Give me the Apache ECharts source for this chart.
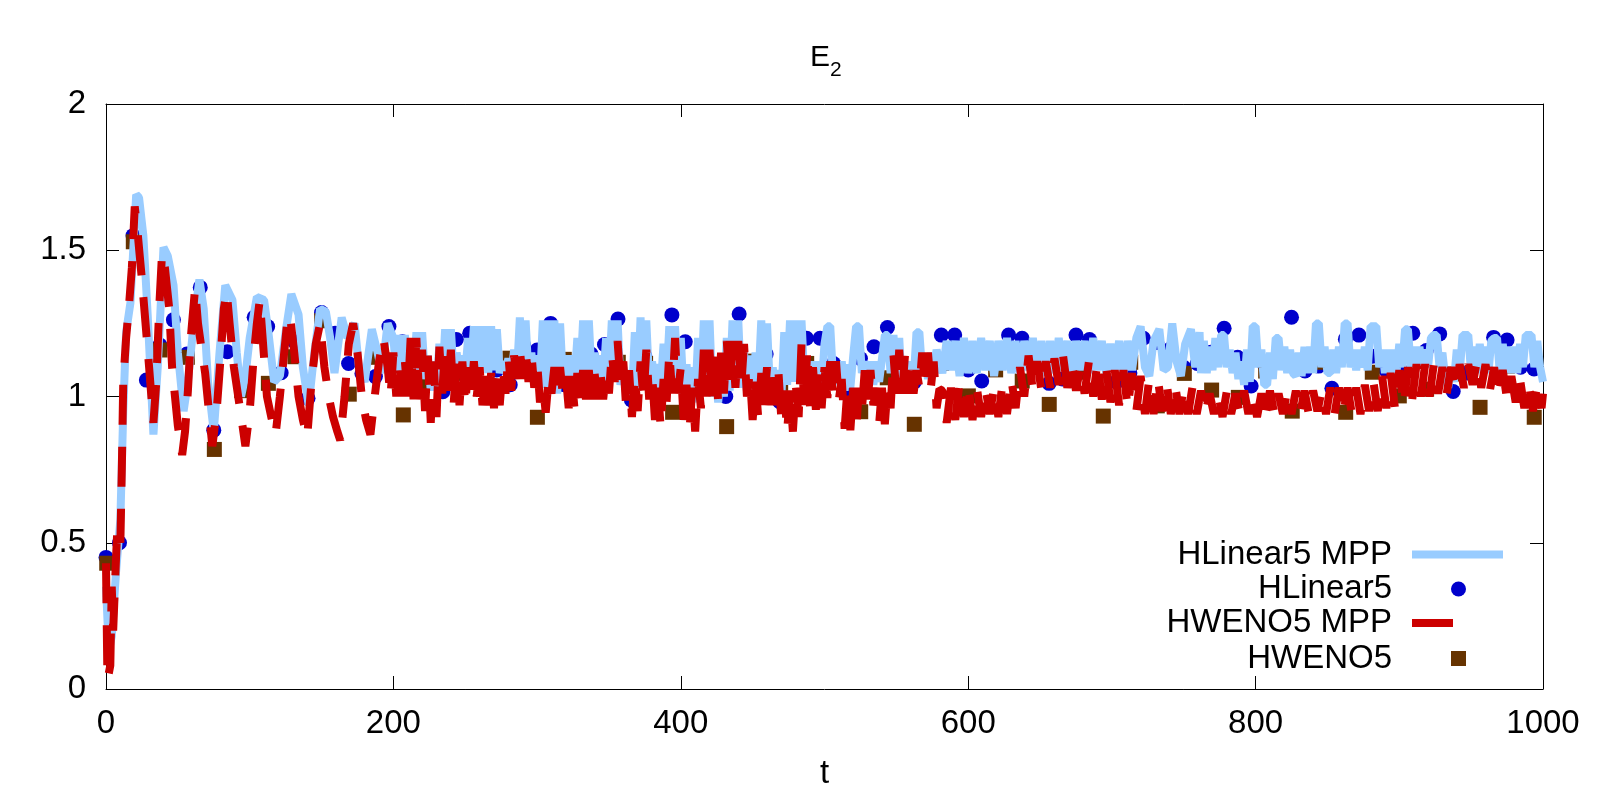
<!DOCTYPE html>
<html>
<head>
<meta charset="utf-8">
<title>E2</title>
<script src="https://cdn.jsdelivr.net/npm/echarts@6/dist/echarts.min.js"></script>
<style>
  html, body { margin: 0; padding: 0; background: #fff; }
  #chart { width: 1600px; height: 800px; }
</style>
</head>
<body>
<div id="chart"></div>
<script>
// axis ticks
const xTicks = [0, 200, 400, 600, 800, 1000];
const yTicks = [0, 0.5, 1, 1.5, 2];

// HLinear5 MPP (light blue line), [t, E2]
const hlinear5Mpp = [
  [0,0.35],[2,0.13],[4,0.18],[7,0.40],[10,0.58],[12,0.95],[14,1.22],[17,1.32],[21,1.69],[23,1.68],
  [26,1.55],[29,1.28],[33,0.87],[36,1.10],[40,1.51],[43,1.48],[47,1.38],[50,1.15],[54,0.95],[57,1.05],
  [61,1.25],[65,1.40],[68,1.30],[71,1.05],[75,0.88],[79,1.15],[83,1.38],[88,1.33],[91,1.15],[94,1.00],
  [97,1.07],[100,1.20],[105,1.34],[110,1.33],[113,1.22],[117,1.05],[121,1.07],[125,1.22],[129,1.35],[134,1.28],
  [137,1.10],[141,0.97],[145,1.15],[149,1.30],[153,1.29],[156,1.20],[159,1.08],[164,1.27],[168,1.20],[173,1.25],
  [176,1.10],[180,1.05],[185,1.23],[189,1.15],[192,1.08],[196,1.25],[200,1.20],[202,1.08],[204,1.21],[206,1.08],
  [208,1.21],[210,1.08],[212,1.16],[214,1.06],[216,1.22],[218,1.07],[220,1.22],[222,1.06],[224,1.14],[226,1.02],
  [228,1.12],[230,1.02],[232,1.18],[234,1.05],[236,1.23],[238,1.06],[240,1.23],[242,1.07],[244,1.15],[246,1.08],
  [248,1.14],[250,1.08],[252,1.20],[254,1.09],[256,1.24],[258,1.08],[260,1.24],[262,1.09],[264,1.24],[266,1.08],
  [268,1.24],[270,1.09],[272,1.23],[274,1.08],[276,1.12],[278,1.08],[280,1.13],[282,1.07],[284,1.16],[286,1.08],
  [288,1.27],[290,1.10],[292,1.26],[294,1.07],[296,1.15],[298,1.05],[300,1.14],[302,1.05],[304,1.26],[306,1.03],
  [308,1.26],[310,1.02],[312,1.26],[314,1.01],[316,1.25],[318,1.05],[320,1.14],[322,1.06],[324,1.14],[326,1.05],
  [328,1.20],[330,1.06],[332,1.26],[334,1.08],[336,1.26],[338,1.06],[340,1.15],[342,1.06],[344,1.14],[346,1.05],
  [348,1.20],[350,1.06],[352,1.26],[354,1.05],[356,1.26],[358,1.04],[360,1.10],[362,1.01],[364,1.09],[366,1.00],
  [368,1.22],[370,1.02],[372,1.27],[374,1.03],[376,1.26],[378,1.04],[380,1.12],[382,1.04],[384,1.11],[386,1.03],
  [388,1.18],[390,1.05],[392,1.24],[394,1.05],[396,1.24],[398,1.06],[400,1.20],[402,1.00],[404,1.11],[406,0.96],
  [408,1.10],[410,0.98],[412,1.20],[414,1.02],[416,1.26],[418,1.03],[420,1.26],[422,1.00],[424,1.10],[426,0.98],
  [428,1.09],[430,1.00],[432,1.20],[434,1.02],[436,1.26],[438,1.04],[440,1.26],[442,1.03],[444,1.15],[446,1.02],
  [448,1.14],[450,1.01],[452,1.15],[454,1.05],[456,1.26],[458,1.06],[460,1.25],[462,1.03],[464,1.10],[466,0.99],
  [468,1.09],[470,1.00],[472,1.22],[474,1.04],[476,1.26],[478,1.05],[480,1.26],[482,1.06],[484,1.26],[486,1.05],
  [488,1.12],[490,1.01],[492,1.12],[494,1.02],[496,1.12],[498,1.03],[500,1.18],[502,1.24],[504,1.24],[506,1.06],
  [508,1.12],[510,1.04],[512,1.12],[514,1.02],[516,1.11],[518,1.03],[520,1.14],[522,1.24],[524,1.24],[526,1.08],
  [528,1.12],[530,1.05],[532,1.12],[534,1.04],[536,1.12],[538,1.05],[540,1.13],[542,1.21],[544,1.21],[546,1.08],
  [548,1.21],[550,1.06],[552,1.20],[554,1.02],[556,1.11],[558,1.03],[560,1.12],[562,1.05],[564,1.22],[566,1.22],
  [568,1.08],[570,1.14],[572,1.06],[574,1.15],[576,1.07],[578,1.16],[582,1.08],[585,1.19],[588,1.09],[591,1.19],
  [594,1.07],[597,1.20],[600,1.08],[603,1.19],[606,1.08],[609,1.20],[612,1.09],[615,1.19],[618,1.07],[621,1.19],
  [624,1.09],[627,1.20],[630,1.08],[633,1.19],[636,1.08],[639,1.19],[642,1.09],[645,1.20],[648,1.08],[651,1.19],
  [654,1.07],[657,1.19],[660,1.08],[663,1.20],[666,1.09],[669,1.19],[672,1.08],[675,1.19],[678,1.09],[681,1.19],
  [684,1.08],[687,1.20],[690,1.09],[693,1.19],[696,1.08],[699,1.18],[702,1.09],[705,1.19],[708,1.08],[711,1.19],
  [714,1.09],[717,1.20],[720,1.24],[723,1.10],[726,1.07],[729,1.19],[733,1.23],[736,1.09],[739,1.10],[742,1.25],
  [745,1.12],[748,1.07],[751,1.18],[755,1.23],[758,1.10],[761,1.22],[762,1.08],[764,1.19],[766,1.08],[768,1.17],
  [770,1.09],[772,1.20],[774,1.10],[776,1.21],[778,1.21],[780,1.10],[782,1.16],[784,1.08],[786,1.15],[788,1.06],
  [790,1.12],[792,1.04],[794,1.16],[796,1.05],[798,1.24],[800,1.24],[802,1.10],[804,1.16],[806,1.04],[808,1.04],
  [810,1.15],[812,1.06],[814,1.20],[816,1.20],[818,1.09],[820,1.17],[822,1.08],[824,1.16],[826,1.08],[828,1.07],
  [830,1.15],[832,1.07],[834,1.17],[836,1.08],[838,1.17],[840,1.08],[842,1.25],[844,1.25],[846,1.10],[848,1.17],
  [850,1.08],[852,1.08],[854,1.16],[856,1.08],[858,1.17],[860,1.10],[862,1.25],[864,1.25],[866,1.10],[868,1.16],
  [870,1.09],[872,1.16],[874,1.10],[876,1.17],[878,1.09],[880,1.24],[882,1.24],[884,1.24],[886,1.10],[888,1.16],
  [890,1.08],[892,1.16],[894,1.08],[896,1.16],[898,1.08],[900,1.18],[902,1.10],[904,1.23],[906,1.23],[908,1.10],
  [910,1.17],[912,1.10],[914,1.17],[916,1.10],[918,1.16],[920,1.10],[922,1.20],[924,1.21],[926,1.21],[928,1.10],
  [930,1.15],[932,1.06],[934,1.03],[936,1.10],[938,1.05],[940,1.16],[942,1.08],[944,1.21],[946,1.21],[948,1.21],
  [950,1.08],[952,1.17],[954,1.08],[956,1.18],[958,1.09],[960,1.17],[962,1.08],[964,1.19],[966,1.20],[968,1.20],
  [970,1.08],[972,1.18],[974,1.08],[976,1.17],[978,1.08],[980,1.17],[982,1.08],[984,1.18],[986,1.10],[988,1.21],
  [990,1.21],[992,1.21],[994,1.10],[996,1.19],[998,1.10],[1000,1.05]
];

// HLinear5 (blue dots)
const hlinear5T = [
  0, 9.4, 18.8, 28.1, 37.5, 46.9, 56.3, 65.6, 75, 84.4, 93.8, 103.1, 112.5, 121.9, 131.3, 140.6, 150, 159.4,
  168.8, 178.1, 187.5, 196.9, 206.3, 215.6, 225, 234.4, 243.8, 253.1, 262.5, 271.9, 281.3, 290.6, 300, 309.4,
  318.8, 328.1, 337.5, 346.9, 356.3, 365.6, 375, 384.4, 393.8, 403.1, 412.5, 421.9, 431.3, 440.6, 450, 459.4,
  468.8, 478.1, 487.5, 496.9, 506.3, 515.6, 525, 534.4, 543.8, 553.1, 562.5, 571.9, 581.3, 590.6, 600, 609.4,
  618.8, 628.1, 637.5, 646.9, 656.3, 665.6, 675, 684.4, 693.8, 703.1, 712.5, 721.9, 731.3, 740.6, 750, 759.4,
  768.8, 778.1, 787.5, 796.9, 806.3, 815.6, 825, 834.4, 843.8, 853.1, 862.5, 871.9, 881.3, 890.6, 900, 909.4,
  918.8, 928.1, 937.5, 946.9, 956.3, 965.6, 975, 984.4, 993.8
];
const hlinear5V = [
  0.45, 0.50, 1.55, 1.056, 1.176, 1.262, 1.145, 1.373, 0.885, 1.153, 1.068, 1.271, 1.239, 1.081, 1.187, 0.994, 1.287, 1.216,
  1.113, 1.079, 1.068, 1.239, 1.187, 1.10, 1.05, 1.016, 1.195, 1.216, 1.205, 1.091, 1.04, 1.176, 1.159, 1.250,
  1.04, 1.05, 1.145, 1.178, 1.265, 0.988, 1.138, 1.028, 1.279, 1.187, 1.073, 1.10, 1.00, 1.282, 1.12, 1.145,
  0.982, 1.138, 1.199, 1.199, 1.113, 1.011, 1.130, 1.170, 1.236, 1.051, 1.05, 1.10, 1.210, 1.210, 1.091, 1.053,
  1.10, 1.210, 1.199, 1.12, 1.045, 1.06, 1.210, 1.195, 1.136, 1.05, 1.08, 1.199, 1.185, 1.162, 1.10, 1.113,
  1.151, 1.233, 1.134, 1.036, 1.108, 1.130, 1.271, 1.087, 1.104, 1.028, 1.196, 1.210, 1.138, 1.091, 1.10, 1.216,
  1.157, 1.214, 1.017, 1.08, 1.148, 1.202, 1.193, 1.10, 1.094
];

// HWENO5 MPP (red dashed line)
const hweno5Mpp = [
  [0,0.43],[1,0.03],[3,0.08],[4,0.35],[5,0.20],[7,0.45],[8,0.56],[10,0.50],[11,0.75],[12,1.05],
  [14,1.20],[16,1.31],[18,1.44],[20,1.65],[22,1.56],[25,1.40],[28,1.22],[30,1.10],[33,0.91],[35,1.05],
  [37,1.30],[39,1.49],[41,1.44],[44,1.30],[46,1.10],[48,1.00],[50,0.90],[53,0.80],[55,0.88],[57,1.02],
  [59,1.20],[62,1.37],[64,1.25],[66,1.18],[69,1.08],[71,0.98],[74,0.83],[77,0.95],[80,1.15],[82,1.30],
  [84,1.36],[86,1.25],[89,1.10],[92,1.00],[95,0.90],[97,0.83],[100,0.95],[103,1.15],[105,1.25],[107,1.33],
  [109,1.20],[112,1.00],[115,0.93],[118,0.87],[121,1.00],[124,1.15],[126,1.25],[128,1.28],[131,1.15],[134,1.00],
  [137,0.92],[140,0.86],[143,1.05],[146,1.18],[149,1.25],[152,1.10],[155,1.00],[158,0.93],[161,0.88],[163,0.85],
  [166,1.00],[169,1.18],[172,1.25],[175,1.15],[178,1.00],[181,0.92],[184,0.87],[187,1.00],[190,1.12],[193,1.20],
  [196,1.10],[198,1.00],[200,1.15],[202,1.00],[204,1.12],[206,1.00],[208,1.12],[210,1.00],[212,1.20],[214,0.99],
  [216,1.20],[218,0.99],[220,1.16],[222,0.95],[224,1.14],[226,0.91],[228,1.12],[230,0.93],[232,1.17],[234,1.01],
  [236,1.17],[238,1.02],[240,1.16],[242,0.98],[244,1.12],[246,0.97],[248,1.12],[250,0.97],[252,1.10],[254,1.00],
  [256,1.12],[258,1.00],[260,1.10],[262,0.97],[264,1.07],[266,0.97],[268,1.08],[270,0.96],[272,1.08],[274,0.97],
  [276,1.10],[278,1.01],[280,1.14],[282,1.02],[284,1.14],[286,1.06],[288,1.16],[290,1.06],[292,1.16],[294,1.05],
  [296,1.15],[298,1.03],[300,1.12],[302,0.98],[304,1.04],[306,0.945],[308,1.06],[310,1.01],[312,1.10],[314,1.01],
  [316,1.10],[318,1.00],[320,1.07],[322,0.96],[324,1.07],[326,0.96],[328,1.08],[330,0.99],[332,1.09],[334,0.99],
  [336,1.09],[338,0.99],[340,1.08],[342,0.99],[344,1.09],[346,0.99],[348,1.09],[350,1.01],[352,1.15],[354,1.05],
  [356,1.19],[358,1.05],[360,1.12],[362,0.96],[364,1.09],[366,0.93],[368,1.07],[370,0.95],[372,1.12],[374,0.99],
  [376,1.16],[378,0.99],[380,1.08],[382,0.92],[384,1.03],[386,0.895],[388,1.06],[390,0.97],[392,1.15],[394,1.01],
  [396,1.20],[398,1.01],[400,1.10],[402,0.92],[404,1.04],[406,0.88],[408,1.03],[410,0.88],[412,1.06],[414,0.96],
  [416,1.16],[418,1.00],[420,1.16],[422,0.98],[424,1.17],[426,0.98],[428,1.15],[430,1.01],[432,1.19],[434,1.03],
  [436,1.19],[438,1.03],[440,1.19],[442,1.03],[444,1.18],[446,1.00],[448,1.08],[450,0.92],[452,1.05],[454,0.92],
  [456,1.08],[458,0.97],[460,1.10],[462,0.97],[464,1.10],[466,0.97],[468,1.08],[470,0.92],[472,1.02],[474,0.88],
  [476,1.02],[478,0.88],[480,1.04],[482,0.93],[484,1.18],[486,0.95],[488,1.16],[490,0.955],[492,1.10],[494,0.955],
  [496,1.10],[498,0.96],[500,1.10],[502,0.995],[504,1.12],[506,0.995],[508,1.12],[510,0.99],[512,1.06],[514,0.89],
  [516,1.03],[518,0.885],[520,1.03],[522,0.885],[524,1.03],[526,0.95],[528,1.09],[530,0.99],[532,1.09],[534,0.97],
  [536,1.03],[538,0.905],[540,1.03],[542,0.905],[544,1.04],[546,0.96],[548,1.14],[550,1.01],[552,1.16],[554,1.01],
  [556,1.14],[558,1.01],[560,1.09],[562,1.01],[564,1.09],[566,1.03],[568,1.15],[570,1.03],[572,1.15],[574,1.03],
  [576,1.12],[578,0.96],[580,1.025],[582,1.02],[585,0.91],[588,1.03],
  [591,0.92],[594,1.05],[597,0.93],[600,1.04],[603,0.92],[606,1.03],[609,0.93],[612,1.03],[615,0.94],[618,1.03],
  [621,0.93],[624,1.05],[627,0.94],[630,1.06],[633,0.96],[636,1.10],[639,1.00],[642,1.14],[645,1.02],[648,1.12],
  [651,1.02],[654,1.12],[657,1.03],[660,1.13],[663,1.04],[666,1.14],[669,1.03],[672,1.11],[675,1.02],[678,1.10],
  [681,1.01],[684,1.12],[687,1.00],[690,1.12],[693,0.99],[696,1.10],[699,0.98],[702,1.09],[705,0.97],[708,1.09],
  [711,0.96],[714,1.08],[717,0.95],[720,1.07],[723,0.94],[726,1.06],[729,0.94],[732,1.06],[735,0.95],[738,1.05],
  [741,0.94],[744,1.04],[747,0.94],[750,1.03],[753,0.94],[756,1.03],[759,0.94],[762,1.02],[765,0.94],[768,1.01],
  [771,0.94],[774,1.01],[777,0.93],[780,1.02],[783,0.94],[786,1.01],[789,0.94],[792,1.02],[795,0.94],[798,1.01],
  [801,0.93],[804,1.01],[807,0.94],[810,1.02],[813,0.94],[816,1.01],[819,0.94],[822,1.02],[825,0.94],[828,1.02],
  [831,0.94],[834,1.02],[837,0.94],[840,1.02],[843,0.95],[846,1.02],[849,0.94],[852,1.03],[855,0.94],[858,1.03],
  [861,0.94],[864,1.03],[867,0.94],[870,1.03],[873,0.94],[876,1.04],[879,0.95],[882,1.05],[885,0.95],[888,1.07],
  [891,0.96],[894,1.08],[897,0.96],[900,1.09],[903,0.97],[906,1.10],[909,0.99],[912,1.11],[915,1.00],[918,1.11],
  [921,1.00],[924,1.11],[927,1.01],[930,1.10],[933,1.01],[936,1.10],[939,1.02],[942,1.11],[945,1.03],[948,1.11],
  [951,1.04],[954,1.12],[957,1.03],[960,1.11],[963,1.02],[966,1.10],[969,1.00],[972,1.09],[975,0.99],[978,1.07],
  [981,0.98],[984,1.06],[987,0.96],[990,1.05],[993,0.95],[996,1.04],[999,0.96],[1000,1.01]
];

// HWENO5 (brown squares)
const hweno5T = [
  0.5, 19, 37.6, 56.6, 75.4, 94.4, 113, 131.5, 150.1, 169.3, 188.4, 206.9, 225, 244, 262.6, 281.1, 300.2, 318.9,
  338, 356.5, 375.5, 394.3, 412.9, 431.9, 450.5, 469.5, 487.6, 506.8, 525.2, 543.7, 562.5, 581.5, 600.1, 619.1,
  637.6, 656.4, 675.5, 694, 713.1, 731.6, 750.4, 769.4, 788, 807, 825.5, 843.6, 862.7, 881.2, 900, 919, 937.6,
  956.2, 975.2, 993.9
];
const hweno5V = [
  0.43, 1.529, 1.159, 1.134, 0.819, 1.02, 1.045, 1.136, 1.259, 1.008, 1.134, 0.937, 1.045, 1.079, 1.025, 1.131, 0.929, 1.127,
  1.031, 1.117, 1.113, 0.946, 1.059, 0.897, 1.121, 1.045, 1.113, 1.085, 0.948, 1.064, 0.905, 1.113, 1.002, 1.091,
  1.053, 0.973, 1.083, 0.933, 1.117, 0.968, 1.079, 1.022, 0.997, 1.087, 0.950, 1.117, 0.946, 1.083, 1.002, 1.025, 1.077,
  0.963, 1.104, 0.929
];

const FONT = 'Liberation Sans';
const chart = echarts.init(document.getElementById('chart'), null, { renderer: 'canvas' });

const tickAxis = (extra) => Object.assign({
  type: 'value',
  axisLine: { show: true, onZero: false, lineStyle: { color: '#000', width: 1 } },
  axisTick: { show: true, inside: true, length: 13, lineStyle: { color: '#000', width: 1 } },
  splitLine: { show: false },
  axisLabel: { show: false }
}, extra);

// legend entries, each placed on its own so the texts line up on the right
const legendText = (pad) => ({
  color: '#000', fontFamily: FONT, fontSize: 33, lineHeight: 34, padding: [0, pad, 0, 0]
});
const oneLegend = (name, icon, w, h, right, top, pad) => ({
  data: [name], orient: 'vertical', align: 'right', icon: icon,
  itemWidth: w, itemHeight: h, right: right, top: top, padding: 0,
  itemStyle: { borderWidth: 0, opacity: 1 }, textStyle: legendText(pad), selectedMode: false
});

const option = {
  backgroundColor: '#fff',
  animation: false,
  title: {
    text: '{a|E}{b|2}',
    left: 805, top: 38,
    textStyle: {
      fontWeight: 'normal',
      rich: {
        a: { fontFamily: FONT, fontSize: 30, fontWeight: 'normal', color: '#000', padding: [0, 0, 8, 0] },
        b: { fontFamily: FONT, fontSize: 21, fontWeight: 'normal', color: '#000', verticalAlign: 'bottom' }
      }
    }
  },
  grid: { left: 106, right: 57, top: 104, bottom: 111, containLabel: false },
  xAxis: [
    tickAxis({
      position: 'bottom', min: xTicks[0], max: xTicks[xTicks.length - 1], interval: 200,
      name: 't', nameLocation: 'middle', nameGap: 68,
      nameTextStyle: { fontFamily: FONT, fontSize: 33, color: '#000' },
      axisLabel: { show: true, margin: 18, color: '#000', fontFamily: FONT, fontSize: 33,
        formatter: (v) => String(v) }
    }),
    tickAxis({ position: 'top', min: xTicks[0], max: xTicks[xTicks.length - 1], interval: 200 })
  ],
  yAxis: [
    tickAxis({
      position: 'left', min: yTicks[0], max: yTicks[yTicks.length - 1], interval: 0.5,
      axisLabel: { show: true, margin: 20, color: '#000', fontFamily: FONT, fontSize: 33,
        formatter: (v) => String(v) }
    }),
    tickAxis({ position: 'right', min: yTicks[0], max: yTicks[yTicks.length - 1], interval: 0.5 })
  ],
  legend: [
    oneLegend('HLinear5 MPP', 'rect', 91, 8, 97, 537.5, 15),
    oneLegend('HLinear5', 'circle', 15, 15, 134, 572, 54),
    oneLegend('HWENO5 MPP', 'rect', 41, 8, 147, 606, 15),
    oneLegend('HWENO5', 'rect', 15, 15, 134, 641.5, 54)
  ],
  series: [
    {
      name: 'HLinear5 MPP', type: 'line', data: hlinear5Mpp,
      showSymbol: false, symbol: 'none', color: '#99ccff',
      lineStyle: { color: '#99ccff', width: 8, opacity: 1 }
    },
    {
      name: 'HLinear5', type: 'scatter', clip: false,
      data: hlinear5T.map((t, i) => [t, hlinear5V[i]]),
      symbol: 'circle', symbolSize: 15, itemStyle: { color: '#0000cc', opacity: 1 }
    },
    {
      name: 'HWENO5 MPP', type: 'line', data: hweno5Mpp,
      showSymbol: false, symbol: 'none', color: '#cc0000',
      lineStyle: { color: '#cc0000', width: 8, type: [40, 22], opacity: 1 }
    },
    {
      name: 'HWENO5', type: 'scatter', clip: false,
      data: hweno5T.map((t, i) => [t, hweno5V[i]]),
      symbol: 'rect', symbolSize: 15, itemStyle: { color: '#663300', opacity: 1 }
    }
  ]
};

chart.setOption(option);
</script>
</body>
</html>
